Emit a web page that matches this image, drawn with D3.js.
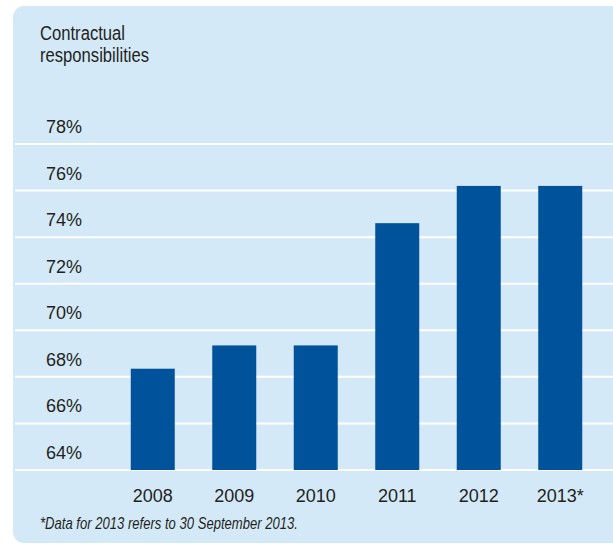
<!DOCTYPE html>
<html>
<head>
<meta charset="utf-8">
<script src="https://cdn.jsdelivr.net/npm/d3@7"></script>
<style>
  body { margin: 0; background: #fff; }
  text { font-family: "Liberation Sans", Arial, sans-serif; fill: #231f20; }
</style>
</head>
<body>
<div id="vis"></div>
<script>
const years = ['2008', '2009', '2010', '2011', '2012', '2013']
const yearLabels = ['2008', '2009', '2010', '2011', '2012', '2013*']
const values = [68.35, 69.35, 69.35, 74.6, 76.2, 76.2]
const yTicks = [64, 66, 68, 70, 72, 74, 76, 78]
const titleLines = ['Contractual', 'responsibilities']
const footnote = '*Data for 2013 refers to 30 September 2013.'

const W = 613, H = 544

const svg = d3.select('#vis').append('svg')
    .attr('width', W)
    .attr('height', H)

// panel with rounded left corners, running off the right edge
svg.append('rect')
    .attr('x', 13).attr('y', 6)
    .attr('width', W + 20).attr('height', H - 7)
    .attr('rx', 11)
    .attr('fill', '#d4e9f7')

const y = d3.scaleLinear().domain([64, 78]).range([470, 144])
const x = d3.scaleBand().domain(years).range([90, 623])
    .paddingInner(0.46).paddingOuter(0.5)

// gridlines
svg.append('g').selectAll('line')
    .data(yTicks)
    .join('line')
    .attr('x1', 15).attr('x2', W)
    .attr('y1', d => y(d)).attr('y2', d => y(d))
    .attr('stroke', '#fff')
    .attr('stroke-width', 2)

// tick labels sit above their line
svg.append('g').selectAll('text')
    .data(yTicks)
    .join('text')
    .attr('x', 46)
    .attr('y', d => y(d) - 11)
    .attr('font-size', 18)
    .text(d => d + '%')

svg.append('g').selectAll('rect')
    .data(values)
    .join('rect')
    .attr('x', (d, i) => x(years[i]))
    .attr('width', x.bandwidth())
    .attr('y', d => y(d))
    .attr('height', d => y(64) - y(d))
    .attr('fill', '#00539b')

svg.append('g').selectAll('text')
    .data(yearLabels)
    .join('text')
    .attr('x', (d, i) => x(years[i]) + x.bandwidth() / 2)
    .attr('y', 502)
    .attr('text-anchor', 'middle')
    .attr('font-size', 18)
    .text(d => d)

svg.append('g').selectAll('text')
    .data(titleLines)
    .join('text')
    .attr('x', 40)
    .attr('y', (d, i) => 40 + i * 22)
    .attr('font-size', 20)
    .attr('textLength', (d, i) => i === 0 ? 85 : 109)
    .attr('lengthAdjust', 'spacingAndGlyphs')
    .text(d => d)

svg.append('text')
    .attr('x', 40)
    .attr('y', 529)
    .attr('font-size', 16.5)
    .attr('font-style', 'italic')
    .attr('textLength', 258)
    .attr('lengthAdjust', 'spacingAndGlyphs')
    .text(footnote)
</script>
</body>
</html>
